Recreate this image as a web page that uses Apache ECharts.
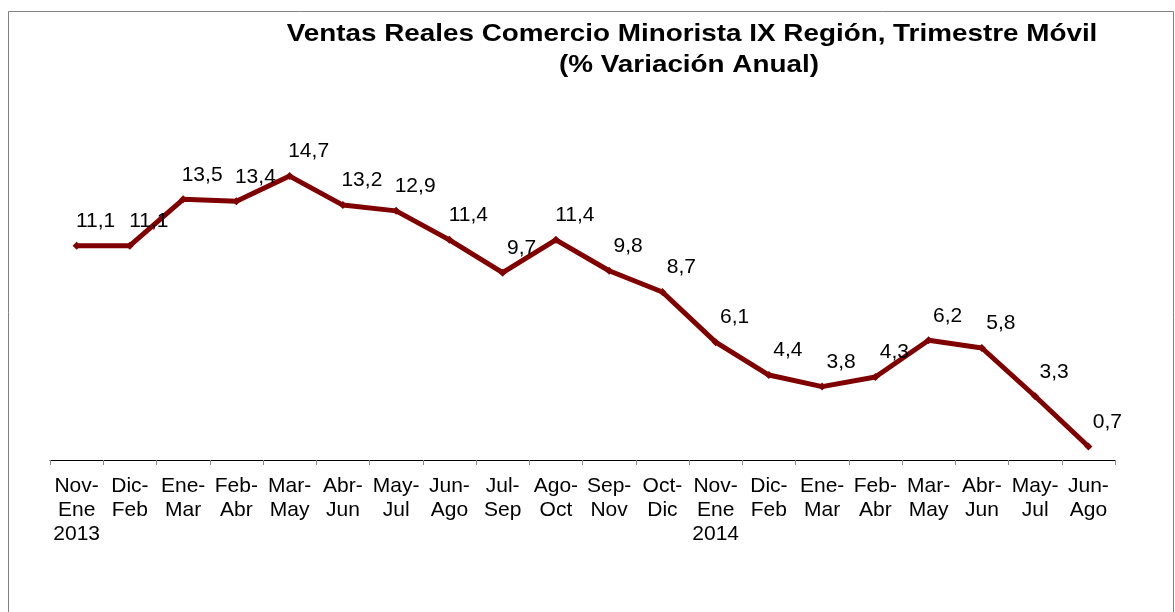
<!DOCTYPE html>
<html>
<head>
<meta charset="utf-8">
<script src="https://cdn.jsdelivr.net/npm/echarts@6/dist/echarts.min.js"></script>
<style>
  html, body { margin: 0; padding: 0; background: #fff; }
  #chart { width: 1175px; height: 612px; }
</style>
</head>
<body>
<div id="chart"></div>
<script>
const periods = [
  'Nov-\nEne\n2013', 'Dic-\nFeb', 'Ene-\nMar', 'Feb-\nAbr', 'Mar-\nMay', 'Abr-\nJun', 'May-\nJul',
  'Jun-\nAgo', 'Jul-\nSep', 'Ago-\nOct', 'Sep-\nNov', 'Oct-\nDic', 'Nov-\nEne\n2014', 'Dic-\nFeb',
  'Ene-\nMar', 'Feb-\nAbr', 'Mar-\nMay', 'Abr-\nJun', 'May-\nJul', 'Jun-\nAgo'
];
const variacion = [11.1, 11.1, 13.5, 13.4, 14.7, 13.2, 12.9, 11.4, 9.7, 11.4, 9.8, 8.7, 6.1, 4.4, 3.8, 4.3, 6.2, 5.8, 3.3, 0.7];

const font = 'Liberation Sans, Arial, sans-serif';

const chart = echarts.init(document.getElementById('chart'));
chart.setOption({
  animation: false,
  textStyle: { fontFamily: font },
  graphic: [
    {
      type: 'rect',
      shape: { x: 8.5, y: 11.5, width: 1165, height: 640 },
      style: { fill: 'none', stroke: '#808080', lineWidth: 1 },
      silent: true
    },
    {
      // title is a bit wider than plain bold Arial in the original
      type: 'text',
      x: 692,
      y: 34,
      scaleX: 1.16,
      style: {
        text: 'Ventas Reales Comercio Minorista IX Región, Trimestre Móvil',
        font: 'bold 24px ' + font,
        fill: '#000',
        align: 'center',
        verticalAlign: 'middle'
      }
    },
    {
      type: 'text',
      x: 689,
      y: 65,
      scaleX: 1.16,
      style: {
        text: '(% Variación Anual)',
        font: 'bold 24px ' + font,
        fill: '#000',
        align: 'center',
        verticalAlign: 'middle'
      }
    }
  ],
  grid: { left: 50, right: 60, top: 151, bottom: 152 },
  xAxis: {
    type: 'category',
    data: periods,
    boundaryGap: true,
    axisLine: { lineStyle: { color: '#000', width: 1 } },
    axisTick: { show: true, length: 5, lineStyle: { color: '#888' } },
    axisLabel: {
      interval: 0,
      margin: 14,
      fontSize: 21,
      lineHeight: 24,
      color: '#000',
      align: 'center'
    }
  },
  yAxis: {
    type: 'value',
    min: 0,
    max: 16,
    show: false,
    splitLine: { show: false }
  },
  series: [{
    type: 'line',
    data: variacion,
    symbol: 'diamond',
    symbolSize: 8,
    lineStyle: { color: '#800000', width: 5 },
    itemStyle: { color: '#800000' },
    label: {
      show: true,
      position: 'top',
      distance: 10,
      offset: [19, 0],
      fontSize: 21,
      color: '#000',
      formatter: p => String(p.value).replace('.', ',')
    }
  }]
});
</script>
</body>
</html>
